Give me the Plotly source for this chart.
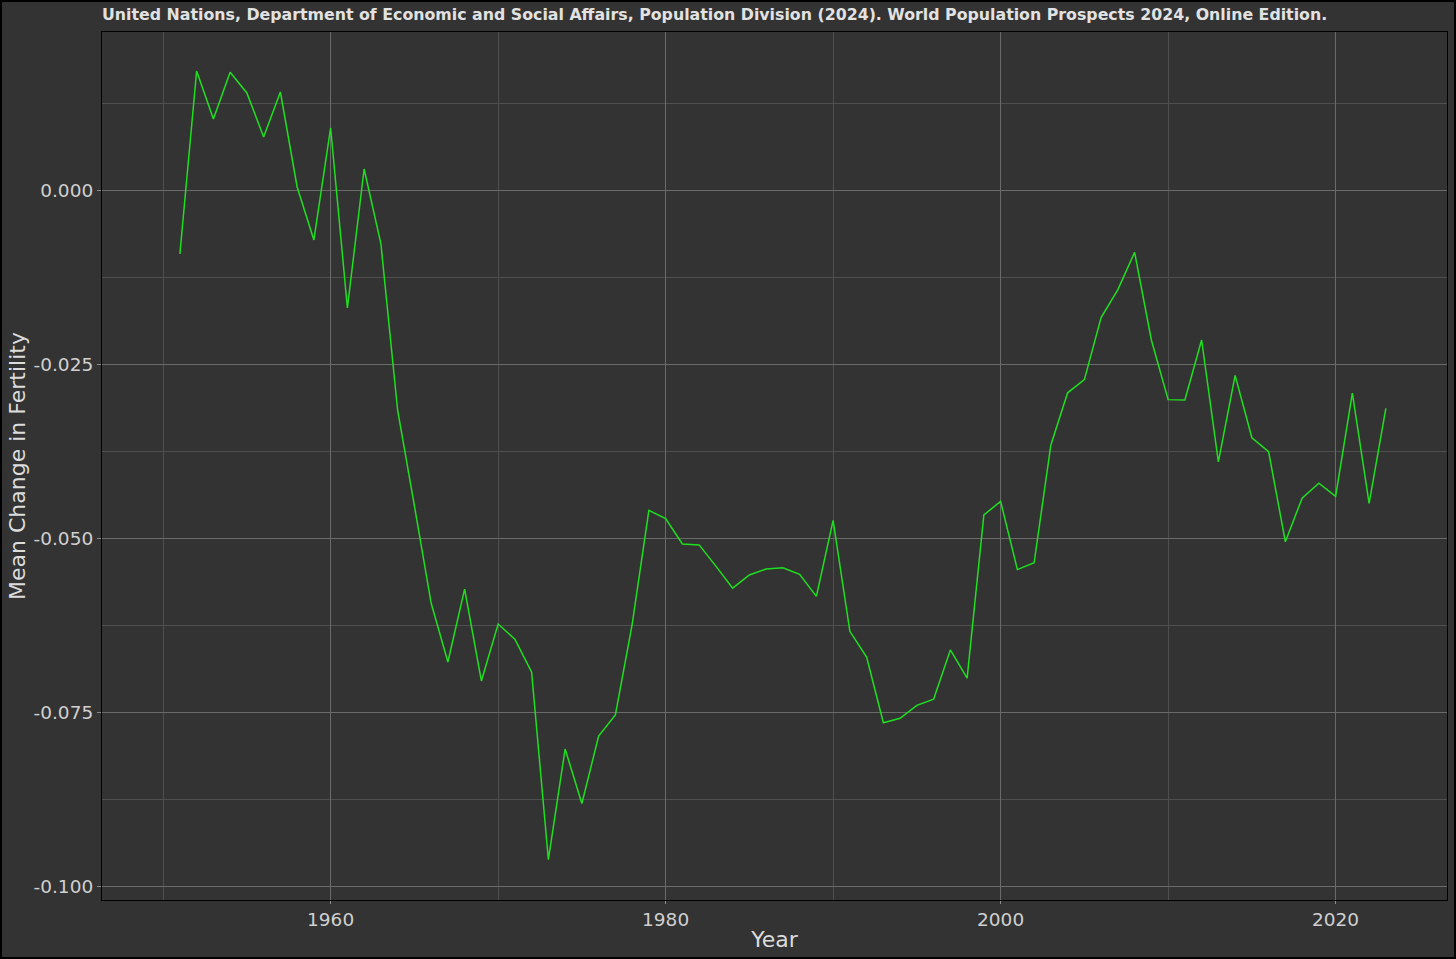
import plotly.graph_objects as go

years = list(range(1951, 2024))
mean_change = [
    -0.00905, 0.01724, 0.01034, 0.01705, 0.01408, 0.00776, 0.01422, 0.00057, -0.00704, 0.00905,
    -0.01681, 0.00316, -0.00755, -0.03150, -0.04520, -0.05920, -0.06767, -0.05720, -0.07040, -0.06222,
    -0.06440, -0.06914, -0.09608, -0.08018, -0.08800, -0.07833, -0.07527, -0.06230, -0.04590, -0.04708,
    -0.05072, -0.05085, -0.05390, -0.05707, -0.05517, -0.05431, -0.05414, -0.05508, -0.05825, -0.04732,
    -0.06327, -0.06698, -0.07641, -0.07577, -0.07390, -0.07302, -0.06595, -0.07000, -0.04655, -0.04460,
    -0.05440, -0.05342, -0.03649, -0.02900, -0.02711, -0.01820, -0.01418, -0.00881, -0.02141, -0.02998,
    -0.03003, -0.02141, -0.03891, -0.02650, -0.03546, -0.03747, -0.05040, -0.04413, -0.04198, -0.04387,
    -0.02905, -0.04490, -0.03125,
]

y_tickvals = [0.0, -0.025, -0.05, -0.075, -0.1]
y_ticktext = ["0.000", "-0.025", "-0.050", "-0.075", "-0.100"]
x_tickvals = [1960, 1980, 2000, 2020]

title_text = ("United Nations, Department of Economic and Social Affairs, Population Division (2024). "
              "World Population Prospects 2024, Online Edition.")

bg = "#333333"
font_family = "DejaVu Sans"

fig = go.Figure()
fig.add_trace(go.Scatter(
    x=years, y=mean_change, mode="lines",
    line=dict(color="#1ee01e", width=1.5),
    showlegend=False, hoverinfo="x+y",
))

fig.update_layout(
    width=1456, height=959,
    paper_bgcolor=bg, plot_bgcolor=bg,
    margin=dict(l=102, r=9, t=32, b=59),
    font=dict(family=font_family, color="#d6d6d6"),
    title=dict(
        text="<b>" + title_text + "</b>",
        x=102 / 1456, xanchor="left", xref="container",
        y=1 - 14 / 959, yanchor="middle", yref="container",
        font=dict(size=15.8, color="#e2e2e2", family=font_family),
    ),
    xaxis=dict(
        range=[1946.35, 2026.65],
        tickvals=x_tickvals,
        ticks="outside", ticklen=3, tickcolor="#8a8a8a", tickwidth=1,
        tickfont=dict(size=18.5, color="#d0d0d0"),
        showgrid=True, gridcolor="#6a6a6a", gridwidth=1.1,
        minor=dict(dtick=10, tick0=1950, showgrid=True, gridcolor="#4f4f4f", gridwidth=0.6, ticks=""),
        zeroline=False,
        showline=True, linecolor="#000000", linewidth=1.2, mirror=True,
        title=dict(text="Year", font=dict(size=22, color="#dcdcdc"), standoff=2),
    ),
    yaxis=dict(
        range=[-0.10187, 0.02284],
        tickvals=y_tickvals, ticktext=y_ticktext,
        ticks="outside", ticklen=4, tickcolor="#8a8a8a", tickwidth=1,
        tickfont=dict(size=18.5, color="#d0d0d0"),
        showgrid=True, gridcolor="#6a6a6a", gridwidth=1.1,
        minor=dict(dtick=0.0125, tick0=0, showgrid=True, gridcolor="#4f4f4f", gridwidth=0.6, ticks=""),
        zeroline=False,
        showline=True, linecolor="#000000", linewidth=1.2, mirror=True,
        title=dict(text="Mean Change in Fertility", font=dict(size=22, color="#dcdcdc"), standoff=1),
    ),
    shapes=[dict(type="rect", xref="paper", yref="paper", x0=-101 / 1345, x1=1 + 8 / 1345,
                 y0=-58 / 868, y1=1 + 31 / 868,
                 line=dict(color="#000000", width=2), fillcolor="rgba(0,0,0,0)", layer="above")],
)

fig.write_html(
    "out.html",
    config={"displayModeBar": False},
    post_script="document.body.style.margin='0';document.body.style.overflow='hidden';",
)
